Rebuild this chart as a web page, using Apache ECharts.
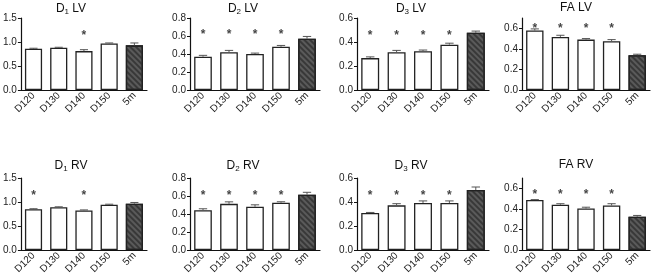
<!DOCTYPE html>
<html>
<head>
<meta charset="utf-8">
<script src="https://cdn.jsdelivr.net/npm/echarts@6/dist/echarts.min.js"></script>
<style>
  html, body { margin: 0; padding: 0; background: #fff; }
  #chart { width: 653px; height: 277px; }
</style>
</head>
<body>
<div id="chart"></div>
<script>
const categories = ['D120', 'D130', 'D140', 'D150', '5m']

// means
const d1LV = [0.86, 0.88, 0.81, 0.97, 0.93]
const d2LV = [0.37, 0.42, 0.40, 0.48, 0.57]
const d3LV = [0.266, 0.315, 0.323, 0.378, 0.477]
const faLV = [0.578, 0.516, 0.49, 0.474, 0.338]
const d1RV = [0.85, 0.89, 0.825, 0.944, 0.965]
const d2RV = [0.443, 0.513, 0.48, 0.525, 0.615]
const d3RV = [0.308, 0.372, 0.392, 0.392, 0.50]
const faRV = [0.487, 0.44, 0.403, 0.433, 0.323]

// error bars (upper half only)
const d1LVErr = [0.01, 0.01, 0.03, 0.01, 0.05]
const d2LVErr = [0.015, 0.02, 0.01, 0.015, 0.025]
const d3LVErr = [0.01, 0.015, 0.01, 0.012, 0.014]
const faLVErr = [0.016, 0.016, 0.01, 0.016, 0.01]
const d1RVErr = [0.01, 0.01, 0.01, 0.01, 0.025]
const d2RVErr = [0.015, 0.022, 0.022, 0.011, 0.026]
const d3RVErr = [0.005, 0.014, 0.017, 0.017, 0.025]
const faRVErr = [0.003, 0.01, 0.013, 0.017, 0.013]

// significance flags (1 = star)
const d1LVStars = [0, 0, 1, 0, 0]
const d2LVStars = [1, 1, 1, 1, 0]
const d3LVStars = [1, 1, 1, 1, 0]
const faLVStars = [1, 1, 1, 1, 0]
const d1RVStars = [1, 0, 1, 0, 0]
const d2RVStars = [1, 1, 1, 1, 0]
const d3RVStars = [1, 1, 1, 1, 0]
const faRVStars = [1, 1, 1, 1, 0]

const yMax = [1.5, 0.8, 0.6, 0.7]
const yStep = [0.5, 0.2, 0.2, 0.2]
const starLevel = [1.2, 0.65, 0.48, 0.63, 1.2, 0.64, 0.48, 0.57]

const panels = [
  { t: ['D', '1', ' LV'], v: d1LV, e: d1LVErr, s: d1LVStars },
  { t: ['D', '2', ' LV'], v: d2LV, e: d2LVErr, s: d2LVStars },
  { t: ['D', '3', ' LV'], v: d3LV, e: d3LVErr, s: d3LVStars },
  { t: ['FA LV', '', ''], v: faLV, e: faLVErr, s: faLVStars },
  { t: ['D', '1', ' RV'], v: d1RV, e: d1RVErr, s: d1RVStars },
  { t: ['D', '2', ' RV'], v: d2RV, e: d2RVErr, s: d2RVStars },
  { t: ['D', '3', ' RV'], v: d3RV, e: d3RVErr, s: d3RVStars },
  { t: ['FA RV', '', ''], v: faRV, e: faRVErr, s: faRVStars }
]

const FONT = 'Liberation Sans, Arial, sans-serif'
const gridLeft = [17, 190, 357, 522]
const gridWidth = [130, 130, 132, 128]
const gridTop = [18, 178]
const gridH = 72
const titleX = [71, 243, 411, 576]
const titleY = [2, 159]

const chart = echarts.init(document.getElementById('chart'), null, { renderer: 'canvas' })

function errRender(params, api) {
  const x = api.value(0)
  const top = api.coord([x, api.value(2)])
  const bot = api.coord([x, api.value(1)])
  const w = api.size([1, 0])[0] * 0.32
  const style = { stroke: '#555', lineWidth: 1 }
  return {
    type: 'group',
    children: [
      { type: 'line', shape: { x1: top[0], y1: top[1], x2: bot[0], y2: bot[1] }, style },
      { type: 'line', shape: { x1: top[0] - w / 2, y1: top[1], x2: top[0] + w / 2, y2: top[1] }, style }
    ]
  }
}

const grid = [], xAxis = [], yAxis = [], series = [], title = []

panels.forEach((p, i) => {
  const col = i % 4
  const row = Math.floor(i / 4)
  const max = yMax[col]
  const step = yStep[col]
  const ticks = []
  for (let k = 0; k <= Math.round(max / step); k++) {
    const t = +(k * step).toFixed(2)
    if (t <= max + 1e-9) ticks.push(t)
  }

  grid.push({ left: gridLeft[col], top: gridTop[row], width: gridWidth[col], height: gridH })

  title.push({
    text: p.t[1] ? '{b|' + p.t[0] + '}{s|' + p.t[1] + '}{b|' + p.t[2] + '}' : '{b|' + p.t[0] + '}',
    left: titleX[col],
    top: titleY[row],
    textAlign: 'center',
    padding: 0,
    textStyle: {
      fontWeight: 'normal',
      rich: {
        b: { fontSize: 12, fontFamily: FONT, fontWeight: 'normal', color: '#111' },
        s: { fontSize: 8, fontFamily: FONT, fontWeight: 'normal', color: '#111', padding: [6, 0, 0, 0] }
      }
    }
  })

  xAxis.push({
    type: 'category',
    gridIndex: i,
    data: categories,
    axisLine: { lineStyle: { color: '#111', width: 1.2 } },
    axisTick: { alignWithLabel: true, length: 3, lineStyle: { color: '#111' } },
    axisLabel: { rotate: 45, margin: 4, fontSize: 10, fontFamily: FONT, color: '#222', interval: 0 }
  })

  yAxis.push({
    type: 'value',
    gridIndex: i,
    min: 0,
    max: max,
    interval: step,
    splitLine: { show: false },
    axisLine: { show: true, lineStyle: { color: '#111', width: 1.2 } },
    axisTick: { show: true, length: 3, customValues: ticks, lineStyle: { color: '#111' } },
    axisLabel: {
      customValues: ticks,
      margin: 4,
      fontSize: 10,
      fontFamily: FONT,
      color: '#222',
      formatter: (v) => v.toFixed(1)
    }
  })

  series.push({
    type: 'bar',
    xAxisIndex: i,
    yAxisIndex: i,
    barWidth: '68%',
    data: p.v.map((v, k) => {
      if (categories[k] === '5m') {
        return {
          value: v,
          itemStyle: {
            color: '#5a5a5a',
            borderColor: '#222',
            borderWidth: 1.3,
            decal: {
              symbol: 'rect',
              dashArrayX: [1, 0],
              dashArrayY: [1.5, 2],
              rotation: Math.PI / 4,
              color: '#383838'
            }
          }
        }
      }
      return { value: v, itemStyle: { color: '#fff', borderColor: '#222', borderWidth: 1.3 } }
    }),
    silent: true
  })

  series.push({
    type: 'custom',
    xAxisIndex: i,
    yAxisIndex: i,
    renderItem: errRender,
    data: p.v.map((v, k) => [k, v, v + p.e[k]]),
    z: 5,
    silent: true
  })

  const starData = []
  p.s.forEach((f, k) => { if (f) starData.push([k, starLevel[i]]) })
  series.push({
    type: 'scatter',
    xAxisIndex: i,
    yAxisIndex: i,
    symbolSize: 1,
    itemStyle: { color: 'rgba(0,0,0,0)' },
    data: starData,
    label: {
      show: true,
      position: 'inside',
      formatter: '*',
      fontSize: 12,
      fontWeight: 'bold',
      fontFamily: FONT,
      color: '#111',
      offset: [0, 3]
    },
    silent: true
  })
})

chart.setOption({
  animation: false,
  title,
  grid,
  xAxis,
  yAxis,
  series
})
</script>
</body>
</html>
